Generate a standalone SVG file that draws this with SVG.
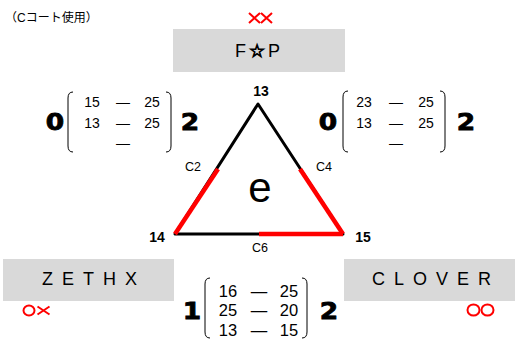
<svg xmlns="http://www.w3.org/2000/svg" width="515" height="340" viewBox="0 0 515 340">
<style>
.box{fill:#d9d9d9}
.name{font-family:"Liberation Sans",Arial,sans-serif;font-size:18px;fill:#000}
.num{font-family:"Liberation Sans",Arial,sans-serif;font-size:14px;fill:#000}
.numb{font-family:"Liberation Sans",Arial,sans-serif;font-size:16.5px;fill:#000}
.big{font-family:"DejaVu Sans",sans-serif;font-weight:bold;font-size:23px;fill:#000;stroke:#000;stroke-width:0.8}
.lbl{font-family:"Liberation Sans",Arial,sans-serif;font-weight:bold;font-size:14px;fill:#000}
.c{font-family:"Liberation Sans",Arial,sans-serif;font-size:12.5px;fill:#000}
.mark{fill:none;stroke:#ff0000;stroke-width:2}
.br{fill:none;stroke:#000;stroke-width:1}
</style>
<text x="5" y="22" font-family="'Liberation Sans','Noto Sans CJK JP',sans-serif" font-size="12">（Cコート使用）</text>

<g id="node-fp">
<rect class="box" x="173" y="29" width="172" height="43"/>
<text class="name" x="259" y="57" text-anchor="middle" font-size="20" letter-spacing="3">F<tspan font-family="'DejaVu Sans',sans-serif" stroke="#000" stroke-width="1">☆</tspan>P</text>
<path class="mark" d="M249 13 L260 23 M260 13 L249 23 M261 13 L272 23 M272 13 L261 23"/>
</g>

<g id="node-zethx">
<rect class="box" x="3" y="259" width="171" height="42"/>
<text class="name" x="42" y="285" letter-spacing="9">ZETHX</text>
<ellipse class="mark" cx="29" cy="310.5" rx="5.5" ry="5"/>
<path class="mark" d="M37.5 306.5 L49.5 314.5 M49.5 306.5 L37.5 314.5"/>
</g>

<g id="node-clover">
<rect class="box" x="344" y="259" width="171" height="42"/>
<text class="name" x="372" y="285" letter-spacing="9">CLOVER</text>
<ellipse class="mark" cx="473.5" cy="310" rx="6" ry="5.5"/>
<ellipse class="mark" cx="487.5" cy="310" rx="6" ry="5.5"/>
</g>

<g id="connectors">
<polygon points="258,104 175,234 343,234" fill="none" stroke="#000" stroke-width="3" stroke-linejoin="round"/>
<line x1="218" y1="169" x2="175" y2="234" stroke="#ff0000" stroke-width="4.5"/>
<line x1="300" y1="169" x2="343" y2="234" stroke="#ff0000" stroke-width="4.5"/>
<line x1="259" y1="234" x2="343" y2="234" stroke="#ff0000" stroke-width="4.5"/>
</g>

<g id="node-triangle-labels">
<text class="lbl" x="261" y="96" text-anchor="middle">13</text>
<text class="lbl" x="157" y="242" text-anchor="middle">14</text>
<text class="lbl" x="363" y="242" text-anchor="middle">15</text>
<text class="c" x="193" y="171" text-anchor="middle">C2</text>
<text class="c" x="324" y="171" text-anchor="middle">C4</text>
<text class="c" x="260" y="252" text-anchor="middle">C6</text>
<text x="260" y="202" text-anchor="middle" font-family="'Liberation Sans',Arial,sans-serif" font-size="42">e</text>
</g>

<g id="node-matrix-left">
<text class="big" transform="translate(55 130) scale(1.15 1)" text-anchor="middle">0</text>
<path class="br" d="M73 92 Q68 92 68 98 L68 146 Q68 152 73 152"/>
<text class="num" x="92" y="107" text-anchor="middle">15</text>
<text class="num" x="123" y="107" text-anchor="middle">—</text>
<text class="num" x="152" y="107" text-anchor="middle">25</text>
<text class="num" x="92" y="128" text-anchor="middle">13</text>
<text class="num" x="123" y="128" text-anchor="middle">—</text>
<text class="num" x="152" y="128" text-anchor="middle">25</text>
<text class="num" x="123" y="148" text-anchor="middle">—</text>
<path class="br" d="M166 92 Q171 92 171 98 L171 146 Q171 152 166 152"/>
<text class="big" transform="translate(190 130) scale(1.15 1)" text-anchor="middle">2</text>
</g>

<g id="node-matrix-right">
<text class="big" transform="translate(328 130) scale(1.15 1)" text-anchor="middle">0</text>
<path class="br" d="M348 91 Q343 91 343 97 L343 146 Q343 152 348 152"/>
<text class="num" x="364" y="107" text-anchor="middle">23</text>
<text class="num" x="396" y="107" text-anchor="middle">—</text>
<text class="num" x="426" y="107" text-anchor="middle">25</text>
<text class="num" x="364" y="128" text-anchor="middle">13</text>
<text class="num" x="396" y="128" text-anchor="middle">—</text>
<text class="num" x="426" y="128" text-anchor="middle">25</text>
<text class="num" x="396" y="148" text-anchor="middle">—</text>
<path class="br" d="M440 91 Q445 91 445 97 L445 146 Q445 152 440 152"/>
<text class="big" transform="translate(466 130) scale(1.15 1)" text-anchor="middle">2</text>
</g>

<g id="node-matrix-bottom">
<text class="big" transform="translate(192 319) scale(1.15 1)" text-anchor="middle">1</text>
<path class="br" d="M210 278 Q205 278 205 284 L205 332 Q205 338 210 338"/>
<text class="numb" x="228" y="297" text-anchor="middle">16</text>
<text class="numb" x="259" y="297" text-anchor="middle">—</text>
<text class="numb" x="289" y="297" text-anchor="middle">25</text>
<text class="numb" x="228" y="316" text-anchor="middle">25</text>
<text class="numb" x="259" y="316" text-anchor="middle">—</text>
<text class="numb" x="289" y="316" text-anchor="middle">20</text>
<text class="numb" x="228" y="336" text-anchor="middle">13</text>
<text class="numb" x="259" y="336" text-anchor="middle">—</text>
<text class="numb" x="289" y="336" text-anchor="middle">15</text>
<path class="br" d="M302 278 Q307 278 307 284 L307 332 Q307 338 302 338"/>
<text class="big" transform="translate(329 319) scale(1.15 1)" text-anchor="middle">2</text>
</g>
</svg>
